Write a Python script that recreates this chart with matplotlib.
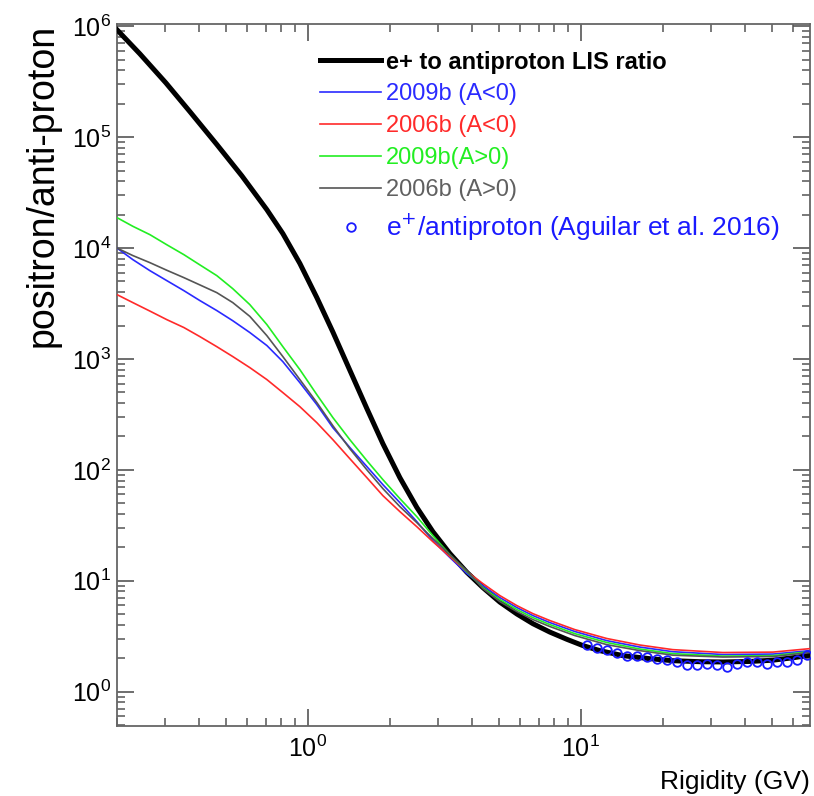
import matplotlib
matplotlib.use("Agg")
import matplotlib.pyplot as plt
from matplotlib.ticker import FixedLocator, LogLocator, LogFormatterMathtext, NullFormatter

plt.rcParams['font.family'] = ['Liberation Sans', 'DejaVu Sans']

# curves (rigidity in GV, ratio)
x_lis = [0.2, 0.2424, 0.3019, 0.3697, 0.4642, 0.5732, 0.7076, 0.810, 0.935, 1.079, 1.235,
         1.425, 1.645, 1.883, 2.173, 2.507, 2.870, 3.312, 3.823, 4.375, 5.05, 5.83, 6.67,
         7.70, 8.89, 10.17, 11.74, 14.25, 17.89, 21.7, 27.3, 33.1, 41.6, 50.5, 60.8, 69]
y_lis = [9.3e5, 5.65e5, 3.09e5, 1.70e5, 8.58e4, 4.48e4, 2.22e4, 1.35e4, 7.26e3, 3.57e3, 1.75e3,
         791, 357, 172, 85.0, 45.8, 27.7, 17.6, 11.9, 8.67, 6.41, 5.01, 4.10,
         3.44, 2.96, 2.60, 2.34, 2.11, 1.98, 1.90, 1.86, 1.85, 1.87, 1.92, 2.03, 2.13]

x_col = [0.2, 0.2286, 0.264, 0.3045, 0.3514, 0.4022, 0.464, 0.531, 0.613, 0.708, 0.810,
         0.935, 1.079, 1.235, 1.425, 1.645, 1.883, 2.173, 2.507, 2.870, 3.312, 3.823,
         4.375, 5.05, 5.83, 6.67, 7.70, 9.51, 12.45, 16.45, 21.7, 33.1, 50.5, 69]

y_blue = [1.0e4, 7.86e3, 6.25e3, 5.08e3, 4.13e3, 3.36e3, 2.73e3, 2.21e3, 1.73e3, 1.32e3, 945,
          611, 387, 240, 159, 107, 73.5, 50.6, 34.1, 23.0, 16.2, 11.6,
          9.03, 7.04, 5.72, 4.85, 4.19, 3.48, 2.88, 2.52, 2.29, 2.16, 2.18, 2.34]

y_red = [3.80e3, 3.22e3, 2.70e3, 2.26e3, 1.92e3, 1.59e3, 1.29e3, 1.05e3, 835, 651, 497,
         371, 266, 187, 126, 85.0, 58.5, 42.0, 30.7, 22.5, 16.5, 12.1,
         9.42, 7.34, 5.96, 5.05, 4.37, 3.62, 3.01, 2.63, 2.39, 2.25, 2.27, 2.44]

y_green = [1.88e4, 1.57e4, 1.32e4, 1.07e4, 8.72e3, 7.05e3, 5.64e3, 4.30e3, 3.09e3, 2.04e3, 1.29e3,
           801, 476, 296, 187, 121, 81.6, 55.0, 37.8, 25.5, 17.2, 12.1,
           8.67, 6.75, 5.49, 4.65, 4.02, 3.33, 2.77, 2.42, 2.20, 2.09, 2.11, 2.29]

y_gray = [1.0e4, 8.55e3, 7.38e3, 6.30e3, 5.41e3, 4.65e3, 3.96e3, 3.22e3, 2.42e3, 1.62e3, 1.05e3,
          651, 404, 250, 155, 100, 67.7, 46.6, 33.4, 24.0, 17.2, 12.3,
          8.49, 6.48, 5.27, 4.46, 3.86, 3.20, 2.65, 2.34, 2.13, 2.05, 2.07, 2.25]

# AMS data points (Aguilar et al. 2016)
x_data = [10.5, 11.45, 12.45, 13.55, 14.74, 16.04, 17.45, 18.98, 20.65, 22.47, 24.45, 26.6,
          28.9, 31.5, 34.3, 37.3, 40.6, 44.1, 48.0, 52.2, 56.8, 61.8, 67.3]
y_data = [2.65, 2.49, 2.39, 2.25, 2.11, 2.11, 2.07, 1.98, 1.94, 1.83, 1.75, 1.75,
          1.79, 1.75, 1.68, 1.79, 1.83, 1.86, 1.79, 1.83, 1.86, 1.94, 2.16]

labels = ['e+ to antiproton LIS ratio', '2009b (A<0)', '2006b (A<0)', '2009b(A>0)',
          '2006b (A>0)', 'e$^{+}$/antiproton (Aguilar et al. 2016)']
c_blue = '#2a2aff'
c_red = '#ff2a2a'
c_green = '#22ee22'
c_gray = '#555555'

fig = plt.figure(figsize=(8.14, 7.96), dpi=100)
ax = fig.add_axes([0.1437, 0.088, 0.8513, 0.882])

ax.plot(x_lis, y_lis, color='black', lw=3.6, label=labels[0], zorder=3,
        solid_joinstyle='round')
ax.plot(x_col, y_blue, color=c_blue, lw=1.2, label=labels[1], zorder=4)
ax.plot(x_col, y_red, color=c_red, lw=1.2, label=labels[2], zorder=4)
ax.plot(x_col, y_green, color=c_green, lw=1.2, label=labels[3], zorder=4)
ax.plot(x_col, y_gray, color=c_gray, lw=1.2, label=labels[4], zorder=4)
ax.plot(x_data, y_data, ls='none', marker='o', ms=6.2, mfc='none', mec='#1a1aff',
        mew=1.3, label=labels[5], zorder=5)

ax.set_xscale('log')
ax.set_yscale('log')
ax.set_xlim(0.2, 69)
ax.set_ylim(0.49, 1.05e6)

ax.xaxis.set_major_locator(FixedLocator([1, 10]))
ax.yaxis.set_major_locator(FixedLocator([1, 10, 100, 1e3, 1e4, 1e5, 1e6]))
for a in (ax.xaxis, ax.yaxis):
    a.set_major_formatter(LogFormatterMathtext())
    a.set_minor_locator(LogLocator(base=10, subs=range(2, 10), numticks=20))
    a.set_minor_formatter(NullFormatter())

ax.tick_params(which='both', direction='in', top=True, right=True, color='#555555',
               labelsize=18)
ax.tick_params(which='major', length=12, width=1.2)
ax.tick_params(which='minor', length=6, width=1.1)
ax.tick_params(axis='y', pad=4)
ax.tick_params(axis='x', pad=7)
for s in ax.spines.values():
    s.set_color('#666666')
    s.set_linewidth(1.3)

ax.set_xlabel('Rigidity (GV)', fontsize=19, loc='right', labelpad=6)
ax.set_ylabel('positron/anti-proton', fontsize=27, loc='top', labelpad=8)

leg = ax.legend(loc='upper left', bbox_to_anchor=(0.293, 0.962), frameon=False,
                fontsize=17, handlelength=2.6, handletextpad=0.2, labelspacing=0.42,
                borderpad=0, borderaxespad=0, numpoints=1)
text_colors = ['black', c_blue, c_red, c_green, '#606060', '#1a1aff']
for t, c in zip(leg.get_texts(), text_colors):
    t.set_color(c)
leg.get_texts()[0].set_fontweight('bold')
leg.get_texts()[5].set_fontsize(19)

fig.savefig('out.png', dpi=100)
